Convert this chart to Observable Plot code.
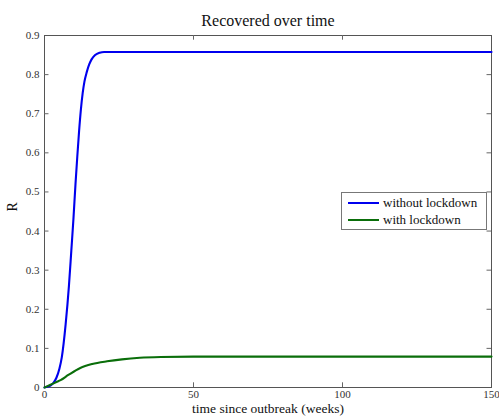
<!DOCTYPE html>
<html>
<head>
<meta charset="utf-8">
<script src="https://cdn.jsdelivr.net/npm/d3@7"></script>
<script src="https://cdn.jsdelivr.net/npm/@observablehq/plot@0.6"></script>
<style>
  html, body { margin: 0; padding: 0; background: #fff; }
  #wrap { position: relative; width: 499px; height: 419px; }
  #legend { position: absolute; left: 341px; top: 192px; width: 146px; height: 38px;
    border: 1px solid #777; background: #fff; font-family: "Liberation Serif", "DejaVu Serif", serif;
    font-size: 13px; color: #111; box-sizing: border-box; }
  .row { position: absolute; left: 6px; display: flex; align-items: center; }
  .sw { width: 31px; height: 2px; margin-right: 4px; }
</style>
</head>
<body>
<div id="wrap"></div>
<script>
const title = "Recovered over time";
const xLabel = "time since outbreak (weeks)";
const yLabel = "R";
const seriesNames = ["without lockdown", "with lockdown"];
const seriesColors = ["#0000ee", "#0a6e0a"];
const xTicks = [0, 50, 100, 150];
const yTicks = [0, 0.1, 0.2, 0.3, 0.4, 0.5, 0.6, 0.7, 0.8, 0.9];

const tWithout = [0, 1, 2, 3, 4, 5, 5.8, 7.1, 8.2, 9.0, 9.7, 10.4, 11.0, 11.6, 12.2, 12.8, 13.4, 14.2, 15.0, 15.8, 17.0, 18.5, 20, 25, 150];
const rWithout = [0, 0.002, 0.005, 0.012, 0.025, 0.048, 0.077, 0.162, 0.26, 0.35, 0.43, 0.52, 0.59, 0.655, 0.71, 0.752, 0.782, 0.807, 0.826, 0.839, 0.85, 0.856, 0.858, 0.858, 0.858];

const tWith = [0, 2, 4, 5.4, 8, 12, 16, 21, 26, 32, 39, 50, 60, 150];
const rWith = [0, 0.007, 0.014, 0.019, 0.032, 0.05, 0.06, 0.067, 0.072, 0.076, 0.078, 0.079, 0.079, 0.079];

const data = [
  ...tWithout.map((t, i) => ({t, r: rWithout[i], s: seriesNames[0]})),
  ...tWith.map((t, i) => ({t, r: rWith[i], s: seriesNames[1]}))
];

const serif = "Liberation Serif, DejaVu Serif, serif";

const chart = Plot.plot({
  width: 499,
  height: 419,
  marginTop: 35,
  marginBottom: 32,
  marginLeft: 44,
  marginRight: 8,
  style: {fontFamily: serif, fontSize: "10.5px", color: "#333", background: "#fff"},
  x: {domain: [0, 150]},
  y: {domain: [0, 0.9]},
  color: {domain: seriesNames, range: seriesColors},
  marks: [
    Plot.frame({stroke: "#555"}),
    Plot.axisX({ticks: xTicks, tickSize: 0, tickPadding: 3, label: null, tickFormat: d => String(d), fontSize: 11}),
    Plot.axisY({ticks: yTicks, tickSize: 0, tickPadding: 5, label: null, tickFormat: d => String(d), fontSize: 11}),
    Plot.ruleX(xTicks.slice(1, -1), {x: d => d, y1: 0, y2: 0.012, stroke: "#666"}),
    Plot.ruleX(xTicks.slice(1, -1), {x: d => d, y1: 0.9, y2: 0.888, stroke: "#666"}),
    Plot.ruleY(yTicks.slice(1, -1), {y: d => d, x1: 0, x2: 1.5, stroke: "#666"}),
    Plot.ruleY(yTicks.slice(1, -1), {y: d => d, x1: 148.5, x2: 150, stroke: "#666"}),
    Plot.line(data, {x: "t", y: "r", z: "s", stroke: "s", strokeWidth: 2.1, curve: "monotone-x"}),
    Plot.text([title], {frameAnchor: "top", dy: -21, fontSize: 16, fill: "#111", text: d => d}),
    Plot.text([xLabel], {frameAnchor: "bottom", dy: 25.5, fontSize: 13.5, fill: "#111", text: d => d}),
    Plot.text([yLabel], {frameAnchor: "left", dx: -32, rotate: -90, fontSize: 14, fill: "#111", text: d => d})
  ]
});

const wrap = document.getElementById("wrap");
wrap.appendChild(chart);

const legend = document.createElement("div");
legend.id = "legend";
seriesNames.forEach((name, i) => {
  const row = document.createElement("div");
  row.className = "row";
  row.style.top = (i === 0 ? 2 : 19) + "px";
  const sw = document.createElement("span");
  sw.className = "sw";
  sw.style.background = seriesColors[i];
  const lab = document.createElement("span");
  lab.textContent = name;
  row.appendChild(sw);
  row.appendChild(lab);
  legend.appendChild(row);
});
wrap.appendChild(legend);
</script>
</body>
</html>
